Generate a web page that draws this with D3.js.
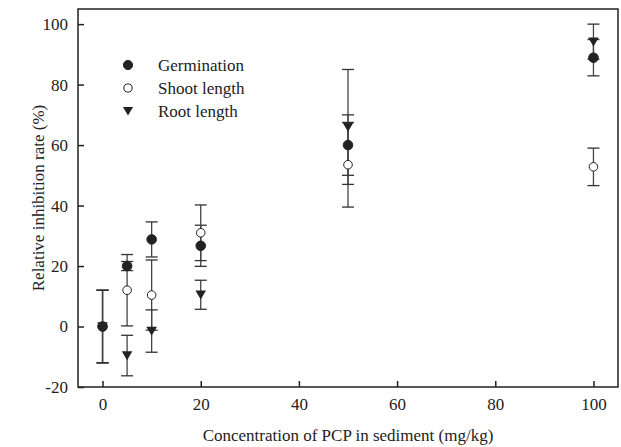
<!DOCTYPE html>
<html>
<head>
<meta charset="utf-8">
<script src="https://cdn.jsdelivr.net/npm/d3@7"></script>
<style>
  body { margin: 0; background: #fff; }
  svg { display: block; }
  text { font-family: "Liberation Serif", "Times New Roman", serif; fill: #222; }
</style>
</head>
<body>
<svg id="chart" width="621" height="447"></svg>
<script>
// ---- data ----
const concentrations = [0, 5, 10, 20, 50, 100];
const germination    = [0, 20, 28.8, 26.7, 60, 88.9];
const germinationErr = [12, 1.5, 5.8, 6.8, 10, 6];
const shootLength    = [0, 12, 10.4, 31, 53.5, 52.8];
const shootErr       = [12, 11.8, 11.6, 9.2, 14, 6.2];
const rootLength     = [0, -9.6, -1.5, 10.5, 66, 94.2];
const rootErr        = [12, 6.7, 7, 4.8, 19, 5.8];
const xTicks = [0, 20, 40, 60, 80, 100];
const yTicks = [-20, 0, 20, 40, 60, 80, 100];
const seriesNames = ["Germination", "Shoot length", "Root length"];

(function () {
const series = [
  { name: seriesNames[0], vals: germination, errs: germinationErr, marker: "filled" },
  { name: seriesNames[1], vals: shootLength, errs: shootErr, marker: "open" },
  { name: seriesNames[2], vals: rootLength, errs: rootErr, marker: "triangle" }
];

const svg = d3.select("#chart");
const mLeft = 78, mRight = 618, mTop = 9, mBottom = 387;

const x = d3.scaleLinear().domain([-5, 105]).range([mLeft, mRight]);
const y = d3.scaleLinear().domain([-20, 105]).range([mBottom, mTop]);

const ink = "#222";
const fmt = d => String(d);

// axes
const xAxis = svg.append("g").attr("transform", `translate(0,${mBottom})`)
  .call(d3.axisBottom(x).tickValues(xTicks).tickSizeInner(-6).tickSizeOuter(0).tickPadding(11).tickFormat(fmt));
const yAxis = svg.append("g").attr("transform", `translate(${mLeft},0)`)
  .call(d3.axisLeft(y).tickValues(yTicks).tickSizeInner(-6).tickSizeOuter(0).tickPadding(10).tickFormat(fmt));
[xAxis, yAxis].forEach(a => {
  a.select(".domain").remove();
  a.selectAll(".tick line").attr("stroke", ink).attr("stroke-width", 1.5);
  a.selectAll(".tick text").attr("font-size", 17).attr("fill", ink)
    .style("font-family", '"Liberation Serif", "Times New Roman", serif');
});

// frame
svg.append("rect")
  .attr("x", mLeft).attr("y", mTop)
  .attr("width", mRight - mLeft).attr("height", mBottom - mTop)
  .attr("fill", "none").attr("stroke", ink).attr("stroke-width", 1.5);

// axis titles
svg.append("text")
  .attr("x", (mLeft + mRight) / 2).attr("y", 441)
  .attr("text-anchor", "middle").attr("font-size", 17)
  .text("Concentration of PCP in sediment (mg/kg)");
svg.append("text")
  .attr("transform", `translate(44,${(mTop + mBottom) / 2}) rotate(-90)`)
  .attr("text-anchor", "middle").attr("font-size", 17)
  .text("Relative inhibition rate (%)");

// marker drawing
const triPath = (s) => `M${-s},${-s * 0.8}L${s},${-s * 0.8}L0,${s * 0.9}Z`;
function drawMarker(g, type, cx, cy, r) {
  if (type === "triangle") {
    g.append("path").attr("d", triPath(r + 0.5))
      .attr("transform", `translate(${cx},${cy})`).attr("fill", ink);
  } else {
    g.append("circle").attr("cx", cx).attr("cy", cy).attr("r", type === "filled" ? r : r - 0.5)
      .attr("fill", type === "filled" ? ink : "#fff")
      .attr("stroke", ink).attr("stroke-width", 1);
  }
}

// error bars
const capW = 6;
const eg = svg.append("g");
series.forEach(s => {
  concentrations.forEach((c, i) => {
    const cx = x(c);
    const y1 = y(s.vals[i] + s.errs[i]);
    const y2 = y(s.vals[i] - s.errs[i]);
    eg.append("line").attr("x1", cx).attr("x2", cx).attr("y1", y1).attr("y2", y2)
      .attr("stroke", "#444").attr("stroke-width", 1.3);
    [y1, y2].forEach(yy => eg.append("line")
      .attr("x1", cx - capW).attr("x2", cx + capW).attr("y1", yy).attr("y2", yy)
      .attr("stroke", "#333").attr("stroke-width", 1.3));
  });
});

// markers: open circles, then triangles, then filled circles on top
const mg = svg.append("g");
[1, 2, 0].forEach(k => {
  const s = series[k];
  concentrations.forEach((c, i) => drawMarker(mg, s.marker, x(c), y(s.vals[i]), 4.8));
});

// legend
const lg = svg.append("g");
const legendY = [65, 88, 111];
series.forEach((s, i) => {
  drawMarker(lg, s.marker, 128, legendY[i], 4.6);
  lg.append("text").attr("x", 158).attr("y", legendY[i]).attr("dy", "0.35em")
    .attr("font-size", 17).text(s.name);
});
})();
</script>
</body>
</html>
